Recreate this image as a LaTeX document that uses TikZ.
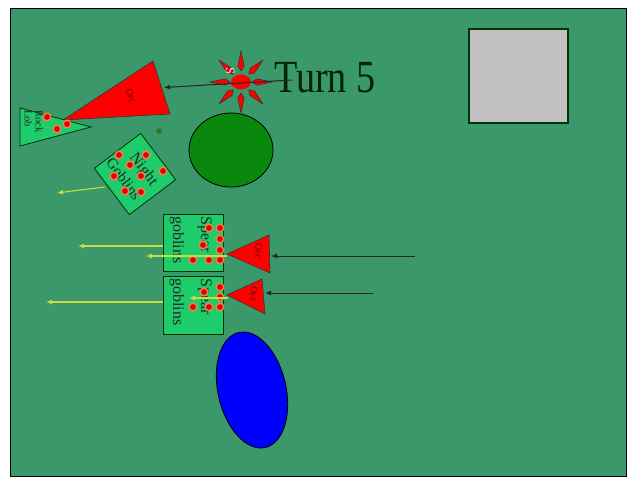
\documentclass[tikz,border=0pt]{standalone}
\usepackage{fontspec}
\setmainfont{Liberation Serif}
\usetikzlibrary{shapes.geometric,arrows.meta,calc}
\definecolor{bgreen}{RGB}{58,152,106}
\definecolor{ugreen}{RGB}{30,204,108}
\definecolor{dgreen}{RGB}{10,136,14}
\definecolor{ylw}{RGB}{200,222,60}
\definecolor{halo}{RGB}{240,130,80}
\definecolor{lgray}{RGB}{192,192,192}
\tikzset{
  unitbox/.style={draw=black!80!green, fill=ugreen, line width=0.8pt, inner sep=0pt},
  orcshape/.style={draw=black!80, fill=red, line width=0.6pt},
  udot/.style={fill=red!90!black, draw=halo, line width=1.4pt},
  yarrow/.style={draw=ylw, line width=1.1pt, -{Latex[length=6pt,width=5pt]}},
  barrow/.style={draw=black!85, line width=1pt, -{Latex[length=6pt,width=5pt]}},
  spike/.style={fill=red, draw=black!85, line width=0.4pt},
  orclabel/.style={font=\fontsize{10}{10}\selectfont, text=black!60!red, inner sep=0pt},
  unitlabel/.style={font=\fontsize{16}{28}\selectfont, text=black!85, inner sep=0pt, align=left}
}
\begin{document}
\begin{tikzpicture}[x=1pt,y=-1pt]
\useasboundingbox (0,0) rectangle (627,477);
\fill[white] (0,0) rectangle (627,477);
\filldraw[fill=bgreen, draw=black, line width=1pt] (10.5,8.5) rectangle (626.5,476.5);

% gray square
\node[draw=black!80!green, fill=lgray, line width=1.5pt, minimum width=99pt, minimum height=94pt, inner sep=0pt] (gray) at (518.5,76) {};

% Turn 5
\node[font=\fontsize{46}{46}\selectfont, text=black!85!green, inner sep=0pt, anchor=base west, xscale=0.83] (turn) at (274,92) {Turn 5};

% sun
\node[ellipse, fill=red, minimum width=20pt, minimum height=15pt, inner sep=0pt] (sun) at (241,82) {};
\foreach \a in {0,45,...,315}{
  \filldraw[spike, shift={(241,82)}, rotate=\a] (11,0) -- (16,3.2) -- (31,0) -- (16,-3.2) -- cycle;
}
\node[font=\fontsize{13}{13}\selectfont, text=white!85!gray, rotate=-90, inner sep=0pt] (slabel) at (230,71) {S};

% big orc triangle
\coordinate (bo1) at (153,61);
\coordinate (bo2) at (170,114);
\coordinate (bo3) at (63,120);
\filldraw[orcshape] (bo1) -- (bo2) -- (bo3) -- cycle;
\node[orclabel, rotate=-70] (bigorc) at (131,96) {Orc};
\coordinate (sunsrc) at (292,80);
\coordinate (bigorcin) at (164,87.5);
\draw[barrow] (sunsrc) -- (bigorcin);

% rock lobber triangle
\coordinate (rl1) at (20,108);
\coordinate (rl2) at (20,146);
\coordinate (rl3) at (91,127);
\filldraw[unitbox] (rl1) -- (rl3) -- (rl2) -- cycle;
\node[font=\fontsize{10.5}{11}\selectfont, text=black!85, rotate=-90, align=left, inner sep=0pt, anchor=north west] (rocklob) at (43,110) {Rock\\Lob};
\foreach \p in {(47,117),(67,124),(57,129)} \filldraw[udot] \p circle (3.8);

% small dot
\fill[dgreen, draw=black!60, line width=0.3pt] (159,131) circle (2.8);

% dark green circle
\node[ellipse, draw=black, fill=dgreen, line width=0.8pt, minimum width=84pt, minimum height=74pt, inner sep=0pt] (hill) at (231,150) {};

% night goblins
\node[unitbox, rotate=37, minimum size=58pt] (ng) at (135,174) {};
\node[font=\fontsize{16}{22}\selectfont, text=black!85, rotate=-53, align=left, inner sep=0pt] (ngtxt) at (133,172) {\hspace*{10pt}Night\\{\fontsize{15}{15}\selectfont Goblins}};
\foreach \p in {(119,155),(146,155),(130,165),(163,171),(114,176),(141,176),(125,191),(141,192)} \filldraw[udot] \p circle (3.8);
\coordinate (ngend) at (57,193);
\draw[yarrow] (105,187) -- (80,190) -- (ngend);

% spear goblins 1
\node[unitbox, minimum width=60pt, minimum height=57pt] (sg1) at (193,242.5) {};
\node[unitlabel, rotate=-90, anchor=north west] (sg1txt) at (212,216) {Spear\\goblins};
\foreach \p in {(209,228),(220,228),(220,239),(203,245),(220,250),(193,260),(209,260),(220,260)} \filldraw[udot] \p circle (3.8);

% orc 1
\coordinate (o1tip) at (227,254);
\coordinate (o1t) at (269,235);
\coordinate (o1b) at (270,273);
\filldraw[orcshape] (o1tip) -- (o1t) -- (o1b) -- cycle;
\node[orclabel, rotate=-90] (o1txt) at (259,251) {Orc};
\coordinate (o1src) at (415,256);
\coordinate (o1in) at (271,256);
\draw[barrow] (o1src) -- (o1in);

% yellow arrows from spear goblins 1
\coordinate (sg1end) at (78,246);
\draw[yarrow] (sg1.west |- sg1end) -- (sg1end);
\coordinate (o1yend) at (146,256);
\draw[yarrow] (o1tip |- o1yend) -- (o1yend);

% spear goblins 2
\node[unitbox, minimum width=60pt, minimum height=58pt] (sg2) at (193,305) {};
\node[unitlabel, rotate=-90, anchor=north west] (sg2txt) at (212,278) {Spear\\goblins};
\foreach \p in {(220,287),(204,292),(220,297),(193,307),(209,307),(220,307)} \filldraw[udot] \p circle (3.8);

% orc 2
\coordinate (o2tip) at (227,295);
\coordinate (o2t) at (262,279);
\coordinate (o2b) at (265,314);
\filldraw[orcshape] (o2tip) -- (o2t) -- (o2b) -- cycle;
\node[orclabel, rotate=-90] (o2txt) at (254,294) {Orc};
\coordinate (o2src) at (373,293);
\coordinate (o2in) at (265,293);
\draw[barrow] (o2src) -- (o2in);

% yellow arrows from spear goblins 2
\coordinate (o2yend) at (189,298);
\draw[yarrow] (228,298) -- (o2yend);
\coordinate (sg2end) at (46,302);
\draw[yarrow] (sg2.west |- sg2end) -- (sg2end);

% blue lake
\node[ellipse, draw=black, fill=blue, line width=0.8pt, minimum width=68pt, minimum height=118pt, inner sep=0pt, rotate=13] (lake) at (252,390) {};
\end{tikzpicture}
\end{document}
